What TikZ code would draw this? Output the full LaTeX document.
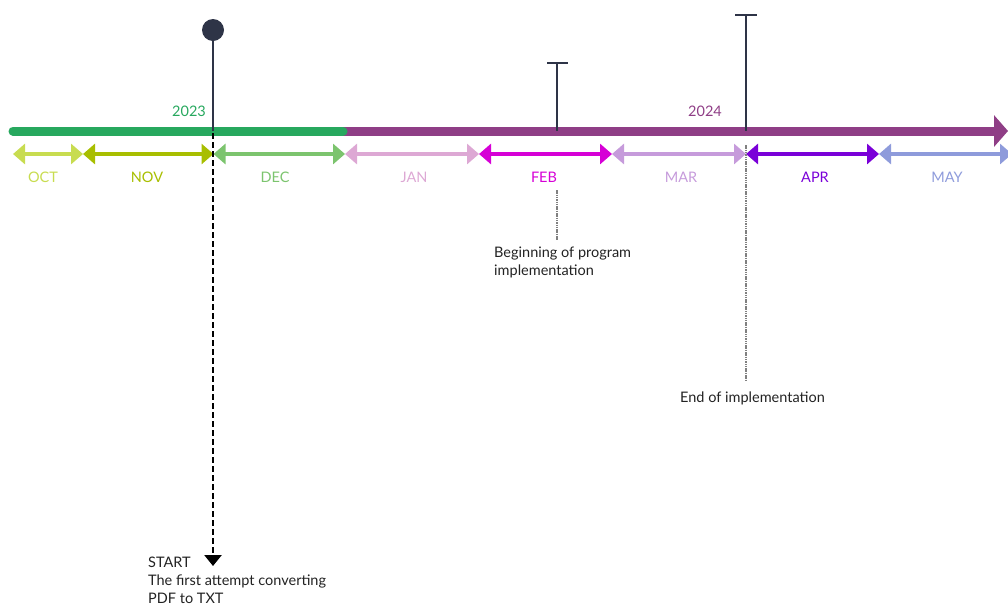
\documentclass[tikz,border=0pt]{standalone}
\usepackage{fontspec}
\setmainfont{Lato}
\usetikzlibrary{arrows.meta}
\definecolor{cgreen}{HTML}{27A85E}
\definecolor{cpurple}{HTML}{8F3E86}
\definecolor{cdark}{HTML}{2E3447}
\definecolor{ctext}{HTML}{222222}
\definecolor{coct}{HTML}{C8DC50}
\definecolor{cnov}{HTML}{A8BE00}
\definecolor{cdec}{HTML}{7CC46E}
\definecolor{cjan}{HTML}{DDA8D4}
\definecolor{cfeb}{HTML}{D600D6}
\definecolor{cmar}{HTML}{C69BDB}
\definecolor{capr}{HTML}{7A00D8}
\definecolor{cmay}{HTML}{8E9BDB}
\tikzset{
  month/.style={line width=4pt, {Triangle[length=12pt,width=20pt]}-{Triangle[length=12pt,width=20pt]}},
  mlabel/.style={font=\fontsize{14.5}{17}\selectfont, inner sep=0pt},
  desc/.style={font=\fontsize{14.5}{18}\selectfont, text=ctext, inner sep=0pt, align=left},
  stem/.style={draw=cdark, line width=2.6pt},
  tbar/.style={draw=cdark, line width=2.6pt},
  dotline/.style={draw=gray, line width=1.8pt, dash pattern=on 1.5pt off 0.8pt},
}
\begin{document}
\begin{tikzpicture}[x=1pt,y=-1pt]
\useasboundingbox (0,0) rectangle (1008,606);
% main line
\coordinate (m0) at (13,131);
\coordinate (mid) at (343,131);
\coordinate (mend) at (1008,131);
\draw[cpurple, line width=9pt, -{Triangle[length=14pt,width=31pt]}] (mid) -- (mend);
\draw[cgreen, line width=9pt, line cap=round] (m0) -- (mid);
\node[mlabel, text=cgreen] (y23) at (189,111) {2023};
\node[mlabel, text=cpurple] (y24) at (705,111) {2024};
% month boundaries
\foreach \n/\x in {b0/13,b1/83,b2/213.5,b3/345,b4/479,b5/612,b6/746,b7/879,b8/1012}
  \coordinate (\n) at (\x,154);
% markers
\coordinate (s1) at (213,131);
\node[circle, fill=cdark, minimum size=22pt, inner sep=0pt] (dot) at (213,30) {};
\draw[stem] (dot) -- (s1);
\coordinate (s2) at (557,131);
\coordinate (t2) at (557,63);
\coordinate (t2l) at (547,63);
\coordinate (t2r) at (568,63);
\draw[stem] (t2) -- (s2);
\draw[tbar] (t2l) -- (t2r);
\coordinate (s3) at (746,131);
\coordinate (t3) at (746,15);
\coordinate (t3l) at (735,15);
\coordinate (t3r) at (757,15);
\draw[stem] (t3) -- (s3);
\draw[tbar] (t3l) -- (t3r);
% month arrows
\draw[month, coct] (b0) -- (b1);
\draw[month, cnov] (b1) -- (b2);
\draw[month, cdec] (b2) -- (b3);
\draw[month, cjan] (b3) -- (b4);
\draw[month, cfeb] (b4) -- (b5);
\draw[month, cmar] (b5) -- (b6);
\draw[month, capr] (b6) -- (b7);
\draw[month, cmay] (b7) -- (b8);
\node[mlabel, text=coct] (loct) at (43,177) {OCT};
\node[mlabel, text=cnov] (lnov) at (147,177) {NOV};
\node[mlabel, text=cdec] (ldec) at (275,177) {DEC};
\node[mlabel, text=cjan] (ljan) at (414,177) {JAN};
\node[mlabel, text=cfeb] (lfeb) at (544,177) {FEB};
\node[mlabel, text=cmar] (lmar) at (681,177) {MAR};
\node[mlabel, text=capr] (lapr) at (815,177) {APR};
\node[mlabel, text=cmay] (lmay) at (947,177) {MAY};
% START dashed arrow
\coordinate (d0) at (213,133);
\node[desc, anchor=north west] (start) at (148,557) {START\\The first attempt converting\\PDF to TXT};
\coordinate (d1) at (213,566);
\draw[black, line width=2.6pt, dash pattern=on 6pt off 3pt, -{Triangle[length=11pt,width=17pt]}] (d0) -- (d1);
% FEB description
\coordinate (f0) at (557,190);
\coordinate (f1) at (557,240);
\draw[dotline] (f0) -- (f1);
\node[desc, anchor=north west] (begin) at (494,247) {Beginning of program\\implementation};
% END description
\coordinate (e0) at (746,145);
\coordinate (e1) at (746,380);
\draw[dotline] (e0) -- (e1);
\node[desc, anchor=north west] (endimpl) at (680,392) {End of implementation};
\end{tikzpicture}
\end{document}
